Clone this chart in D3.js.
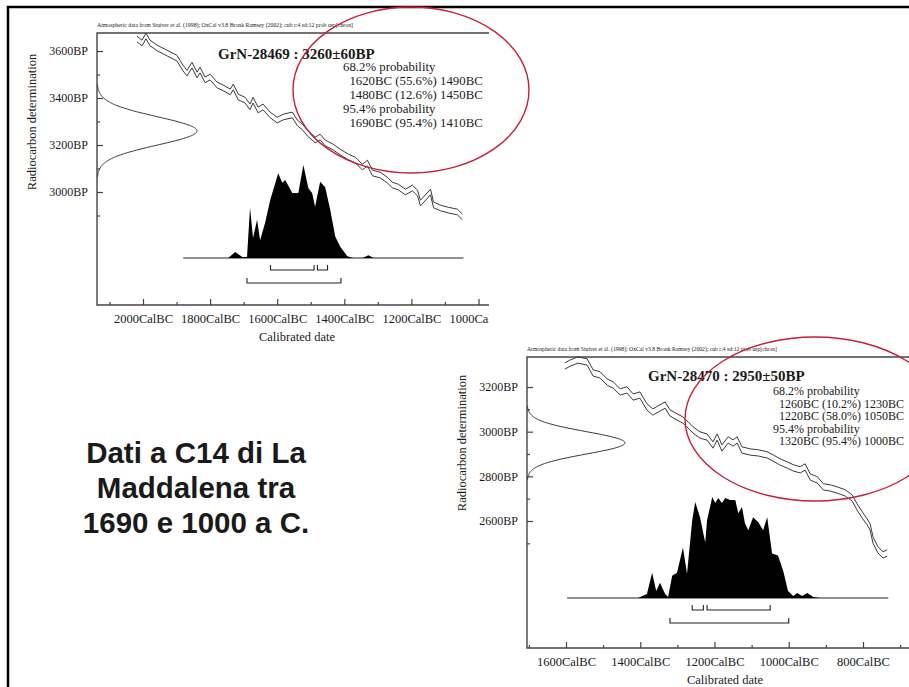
<!DOCTYPE html>
<html>
<head>
<meta charset="utf-8">
<script src="https://cdn.jsdelivr.net/npm/d3@7"></script>
<style>
  body { margin: 0; background: #fff; }
  svg { display: block; }
  text { fill: #1a1a1a; }
</style>
</head>
<body>
<div class="slide"></div>
<script>
// ---- GrN-28469 : 3260±60BP ----
const sample1 = { name: 'GrN-28469', bp: 3260, sd: 60 };
const calYear1 = [2018, 2003, 1991, 1979, 1958, 1928, 1899, 1881, 1869, 1854, 1839, 1830, 1815, 1800, 1779, 1761, 1740, 1731, 1716, 1696, 1681, 1672, 1657, 1642, 1621, 1600, 1582, 1555, 1540, 1525, 1510, 1487, 1472, 1457, 1433, 1412, 1388, 1367, 1346, 1331, 1316, 1293, 1272, 1257, 1239, 1218, 1197, 1182, 1173, 1143, 1134, 1113, 1090, 1063, 1048];
const calBP1 = [3651, 3634, 3664, 3634, 3613, 3591, 3570, 3528, 3506, 3540, 3498, 3519, 3477, 3489, 3455, 3443, 3426, 3447, 3404, 3391, 3362, 3391, 3349, 3362, 3328, 3306, 3319, 3328, 3294, 3277, 3251, 3221, 3234, 3209, 3191, 3170, 3149, 3136, 3106, 3123, 3081, 3072, 3051, 3030, 3021, 3000, 3017, 2996, 2953, 3000, 2945, 2932, 2923, 2915, 2894];
const calErr1 = 12;
const probYear1 = [1746, 1725, 1704, 1690, 1681, 1672, 1660, 1651, 1636, 1621, 1597, 1585, 1576, 1555, 1537, 1522, 1507, 1496, 1487, 1472, 1457, 1442, 1427, 1412, 1391, 1373, 1346, 1328, 1313];
const probDens1 = [0, 0.065, 0.01, 0.01, 0.54, 0.215, 0.41, 0.19, 0.38, 0.62, 0.91, 0.81, 0.84, 0.70, 0.70, 1.0, 0.75, 0.70, 0.55, 0.82, 0.76, 0.52, 0.23, 0.12, 0.02, 0, 0, 0.03, 0];
const range68_1 = [[1620, 1490], [1480, 1450]];
const range95_1 = [[1690, 1410]];
const probText1 = ['68.2% probability', '  1620BC (55.6%) 1490BC', '  1480BC (12.6%) 1450BC', '95.4% probability', '  1690BC (95.4%) 1410BC'];
const yMajor1 = [3000, 3200, 3400, 3600];
const yMinor1 = [2900, 3100, 3300, 3500];
const xMajor1 = [2000, 1800, 1600, 1400, 1200, 1000];
const xMinor1 = [2100, 1900, 1700, 1500, 1300, 1100];

// ---- GrN-28470 : 2950±50BP ----
const sample2 = { name: 'GrN-28470', bp: 2950, sd: 50 };
const calYear2 = [1603, 1589, 1568, 1543, 1527, 1508, 1489, 1473, 1454, 1436, 1419, 1401, 1382, 1366, 1347, 1333, 1320, 1301, 1285, 1271, 1258, 1239, 1220, 1204, 1193, 1180, 1163, 1150, 1139, 1126, 1104, 1082, 1058, 1042, 1023, 1004, 988, 969, 956, 942, 923, 907, 888, 870, 848, 829, 816, 802, 789, 781, 773, 760, 746, 735];
const calBP2 = [3294, 3307, 3321, 3312, 3263, 3254, 3222, 3209, 3178, 3187, 3155, 3164, 3111, 3088, 3106, 3119, 3084, 3066, 3052, 3030, 3008, 2985, 2976, 2940, 2976, 2927, 2963, 2949, 2963, 2918, 2909, 2905, 2896, 2882, 2864, 2851, 2838, 2829, 2842, 2797, 2784, 2753, 2748, 2739, 2726, 2703, 2663, 2627, 2596, 2574, 2515, 2471, 2448, 2457];
const calErr2 = 14;
const probYear2 = [1406, 1382, 1368, 1357, 1347, 1333, 1325, 1314, 1301, 1285, 1274, 1260, 1252, 1239, 1225, 1220, 1206, 1198, 1190, 1180, 1171, 1158, 1144, 1136, 1126, 1118, 1109, 1096, 1082, 1069, 1058, 1045, 1029, 1015, 1002, 988, 977, 964, 950, 934, 915];
const probDens2 = [0, 0.04, 0.25, 0.07, 0.15, 0.04, 0.01, 0.22, 0.25, 0.50, 0.24, 0.77, 0.95, 0.80, 0.55, 0.77, 1.0, 0.94, 0.99, 0.94, 0.99, 0.97, 0.97, 0.84, 0.90, 0.74, 0.67, 0.80, 0.75, 0.67, 0.80, 0.44, 0.42, 0.27, 0.07, 0.02, 0.05, 0.02, 0.05, 0.01, 0];
const range68_2 = [[1260, 1230], [1220, 1050]];
const range95_2 = [[1320, 1000]];
const probText2 = ['68.2% probability', '  1260BC (10.2%) 1230BC', '  1220BC (58.0%) 1050BC', '95.4% probability', '  1320BC (95.4%) 1000BC'];
const yMajor2 = [2600, 2800, 3000, 3200];
const yMinor2 = [2500, 2700, 2900, 3100];
const xMajor2 = [1600, 1400, 1200, 1000, 800];
const xMinor2 = [1700, 1500, 1300, 1100, 900, 700];

const headerText = 'Atmospheric data from Stuiver et al. (1998); OxCal v3.8 Bronk Ramsey (2002); cub r:4 sd:12 prob usp[chron]';
const captionLines = ['Dati a C14 di La', 'Maddalena tra', '1690 e 1000 a C.'];

const width = 909;
const height = 687;
const serif = "'Liberation Serif', 'Times New Roman', serif";

const svg = d3.select('.slide')
  .append('svg')
  .attr('width', width)
  .attr('height', height);

// slide frame (left + top edges)
svg.append('path')
  .attr('d', `M8,${height} V7 H${width}`)
  .attr('fill', 'none')
  .attr('stroke', '#000')
  .attr('stroke-width', 2.5);

function drawPlot(cfg) {
  const g = svg.append('g').style('font-family', serif);
  if (cfg.clipRight) {
    svg.append('clipPath').attr('id', cfg.id)
      .append('rect').attr('x', 0).attr('y', 0).attr('width', cfg.clipRight).attr('height', height);
    g.attr('clip-path', `url(#${cfg.id})`);
  }
  const x = cfg.x, y = cfg.y;
  const right = cfg.clipRight || width;

  // header line of OxCal
  g.append('text')
    .attr('x', cfg.left)
    .attr('y', cfg.top - 6)
    .attr('font-size', 5.5)
    .attr('textLength', cfg.headerLen)
    .attr('lengthAdjust', 'spacingAndGlyphs')
    .text(headerText);

  // frame: top, left, bottom
  g.append('path')
    .attr('d', `M${right},${cfg.top} H${cfg.left} V${cfg.bottom} H${right}`)
    .attr('fill', 'none')
    .attr('stroke', '#444')
    .attr('stroke-width', 1.4);

  // y axis ticks (inside)
  const yMinorAxis = d3.axisLeft(y).tickValues(cfg.yMinor).tickSize(-3).tickFormat('');
  const yMajorAxis = d3.axisLeft(y).tickValues(cfg.yMajor).tickSize(-6).tickPadding(9)
    .tickFormat((d) => d + 'BP');
  [yMinorAxis, yMajorAxis].forEach((ax) => {
    const a = g.append('g').attr('transform', `translate(${cfg.left},0)`).call(ax);
    a.select('.domain').remove();
    a.attr('font-family', serif);
    a.selectAll('line').attr('stroke', '#444').attr('stroke-width', 1.2);
    a.selectAll('text').attr('font-size', 12).attr('fill', '#1a1a1a');
  });

  // x axis ticks (inside)
  const xMinorAxis = d3.axisBottom(x).tickValues(cfg.xMinor).tickSize(-3).tickFormat('');
  const xMajorAxis = d3.axisBottom(x).tickValues(cfg.xMajor).tickSize(-6).tickPadding(9)
    .tickFormat((d) => d + 'CalBC');
  [xMinorAxis, xMajorAxis].forEach((ax) => {
    const a = g.append('g').attr('transform', `translate(0,${cfg.bottom})`).call(ax);
    a.select('.domain').remove();
    a.attr('font-family', serif);
    a.selectAll('line').attr('stroke', '#444').attr('stroke-width', 1.2);
    a.selectAll('text').attr('font-size', 12.5).attr('fill', '#1a1a1a');
  });

  // axis titles
  g.append('text')
    .attr('x', cfg.xTitleX)
    .attr('y', cfg.bottom + cfg.xTitleDy)
    .attr('text-anchor', 'middle')
    .attr('font-size', 12.5)
    .text('Calibrated date');
  g.append('text')
    .attr('transform', `translate(${cfg.left - 61},${cfg.yTitleY}) rotate(-90)`)
    .attr('text-anchor', 'middle')
    .attr('font-size', 12.5)
    .text('Radiocarbon determination');

  // calibration curve (±1 sigma band as two lines)
  const curve = cfg.calYear.map((d, i) => ({ yr: d, bp: cfg.calBP[i] }));
  [cfg.calErr, -cfg.calErr].forEach((e) => {
    g.append('path')
      .datum(curve)
      .attr('fill', 'none')
      .attr('stroke', '#3a3a3a')
      .attr('stroke-width', 1)
      .attr('d', d3.line().x((d) => x(d.yr)).y((d) => y(d.bp + e)));
  });

  // measurement normal distribution on the y axis
  const s = cfg.sample;
  const gx = d3.scaleLinear().domain([0, 1]).range([cfg.left, cfg.left + cfg.gaussW]);
  const gauss = d3.range(s.bp - 3.3 * s.sd, s.bp + 3.3 * s.sd + 1, 2)
    .map((b) => ({ bp: b, p: Math.exp(-0.5 * Math.pow((b - s.bp) / s.sd, 2)) }));
  g.append('path')
    .datum(gauss)
    .attr('fill', 'none')
    .attr('stroke', '#333')
    .attr('stroke-width', 1)
    .attr('d', d3.line().x((d) => gx(d.p)).y((d) => y(d.bp)).curve(d3.curveBasis));

  // calibrated probability distribution
  const dy = d3.scaleLinear().domain([0, 1]).range([cfg.base, cfg.base - cfg.distH]);
  const dist = cfg.probYear.map((d, i) => ({ yr: d, p: cfg.probDens[i] }));
  g.append('line')
    .attr('x1', x(cfg.baseFrom)).attr('x2', x(cfg.baseTo))
    .attr('y1', cfg.base).attr('y2', cfg.base)
    .attr('stroke', '#222').attr('stroke-width', 1.2);
  g.append('path')
    .datum(dist)
    .attr('fill', '#000')
    .attr('d', d3.area().x((d) => x(d.yr)).y0(cfg.base).y1((d) => dy(d.p)));

  // range brackets
  const brackets = cfg.r68.map((r) => ({ r, y: cfg.base + 12 }))
    .concat(cfg.r95.map((r) => ({ r, y: cfg.base + 25 })));
  g.selectAll('.bracket')
    .data(brackets)
    .enter()
    .append('path')
    .attr('fill', 'none')
    .attr('stroke', '#222')
    .attr('stroke-width', 1.1)
    .attr('d', (d) => `M${x(d.r[0])},${d.y - 5} V${d.y} H${x(d.r[1])} V${d.y - 5}`);

  // title and probability text
  const t = svg.append('g').style('font-family', serif);
  t.append('text')
    .attr('x', cfg.titleX)
    .attr('y', cfg.titleY)
    .attr('font-size', 15)
    .attr('font-weight', 'bold')
    .text(`${s.name} : ${s.bp}±${s.sd}BP`);
  t.selectAll(null)
    .data(cfg.probText)
    .enter()
    .append('text')
    .attr('x', cfg.probX)
    .attr('y', (d, i) => cfg.probY + i * cfg.probStep)
    .attr('font-size', cfg.probSize)
    .style('white-space', 'pre')
    .text((d) => d);

  // red ellipse annotation
  svg.append('ellipse')
    .attr('cx', cfg.ell[0]).attr('cy', cfg.ell[1])
    .attr('rx', cfg.ell[2]).attr('ry', cfg.ell[3])
    .attr('fill', 'none')
    .attr('stroke', '#c81e3c')
    .attr('stroke-width', 1.4);
}

drawPlot({
  id: 'clip1',
  clipRight: 489,
  sample: sample1,
  x: d3.scaleLinear().domain([2000, 1000]).range([143, 478.5]),
  y: d3.scaleLinear().domain([3600, 3000]).range([51, 192]),
  left: 97, top: 33, bottom: 305,
  headerLen: 256,
  yMajor: yMajor1, yMinor: yMinor1, xMajor: xMajor1, xMinor: xMinor1,
  xTitleX: 297, xTitleDy: 36, yTitleY: 122,
  calYear: calYear1, calBP: calBP1, calErr: calErr1,
  gaussW: 100,
  probYear: probYear1, probDens: probDens1,
  base: 258, distH: 93, baseFrom: 1880, baseTo: 1045,
  r68: range68_1, r95: range95_1,
  titleX: 218, titleY: 59,
  probText: probText1, probX: 343, probY: 71, probStep: 14, probSize: 12.8,
  ell: [411, 90, 118, 83],
});

drawPlot({
  id: 'clip2',
  clipRight: null,
  sample: sample2,
  x: d3.scaleLinear().domain([1600, 800]).range([566, 863]),
  y: d3.scaleLinear().domain([3200, 2600]).range([387, 521]),
  left: 527, top: 357, bottom: 648,
  headerLen: 250,
  yMajor: yMajor2, yMinor: yMinor2, xMajor: xMajor2, xMinor: xMinor2,
  xTitleX: 725, xTitleDy: 36, yTitleY: 443,
  calYear: calYear2, calBP: calBP2, calErr: calErr2,
  gaussW: 98,
  probYear: probYear2, probDens: probDens2,
  base: 598, distH: 101, baseFrom: 1597, baseTo: 732,
  r68: range68_2, r95: range95_2,
  titleX: 648, titleY: 381,
  probText: probText2, probX: 773, probY: 395, probStep: 12.6, probSize: 12,
  ell: [815, 419, 130, 82],
});

// slide caption
svg.selectAll('.caption')
  .data(captionLines)
  .enter()
  .append('text')
  .attr('x', 196)
  .attr('y', (d, i) => 463 + i * 35)
  .attr('text-anchor', 'middle')
  .style('font-family', "'Liberation Sans', Arial, sans-serif")
  .attr('font-weight', 'bold')
  .attr('font-size', 29.5)
  .attr('fill', '#111')
  .text((d) => d);
</script>
</body>
</html>
